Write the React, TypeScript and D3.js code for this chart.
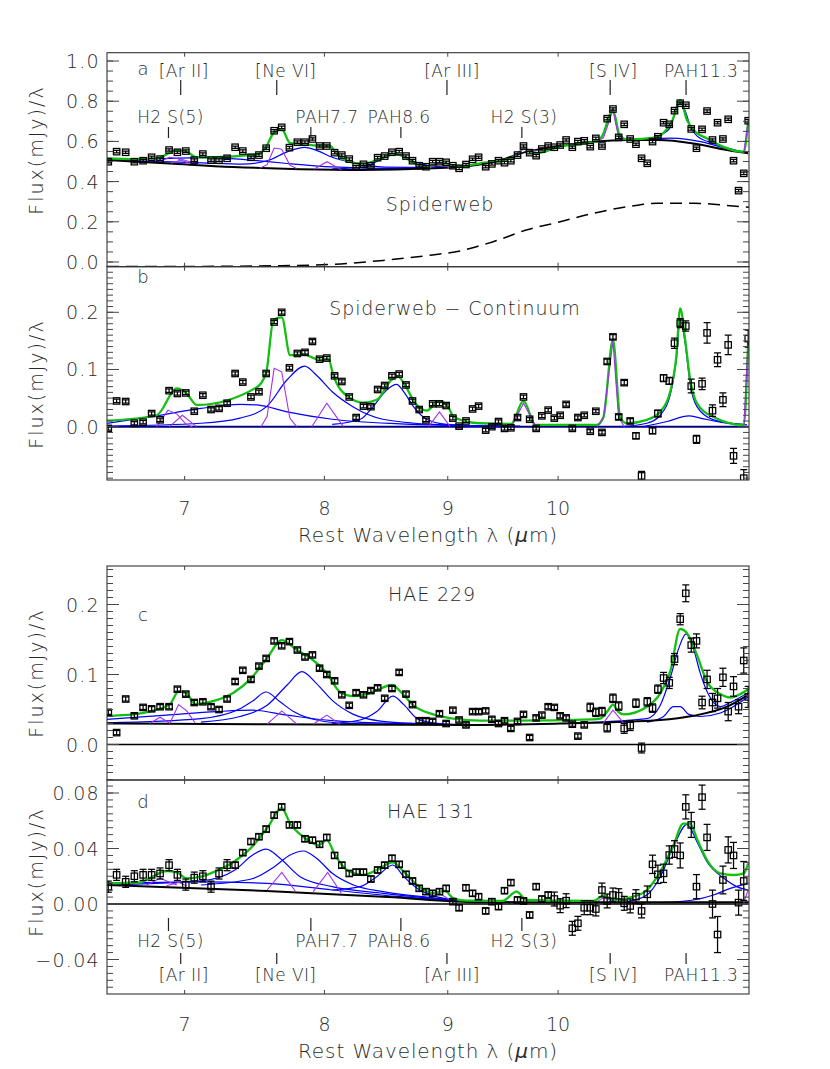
import React from "react";
import * as d3 from "d3";

type P = [number, number];

// common rest-frame wavelength grid (micron)
const wave = [6.508,6.560,6.617,6.672,6.728,6.783,6.838,6.897,6.952,7.008,7.065,7.123,7.179,7.234,7.290,7.346,7.400,7.458,7.515,7.567,7.625,7.680,7.737,7.796,7.853,7.909,7.963,8.018,8.078,8.134,8.192,8.246,8.304,8.363,8.417,8.474,8.533,8.592,8.648,8.702,8.758,8.815,8.871,8.929,8.986,9.044,9.098,9.158,9.216,9.269,9.332,9.387,9.447,9.501,9.559,9.620,9.675,9.732,9.793,9.846,9.906,9.964,10.020,10.077,10.137,10.191,10.253,10.312,10.367,10.428,10.480,10.538,10.596,10.652,10.713,10.772,10.830,10.889,10.944,11.000,11.060,11.120,11.176,11.237,11.297,11.356,11.413,11.474,11.529,11.589,11.645,11.705,11.764,11.824,11.881,11.940,11.991];

const fluxA = [0.499,0.549,0.546,0.499,0.504,0.521,0.512,0.557,0.546,0.552,
0.507,0.537,0.507,0.507,0.516,0.571,0.552,0.521,0.532,0.566,
0.653,0.670,0.569,0.596,0.596,0.612,0.577,0.577,0.544,0.532,
0.512,0.474,0.486,0.479,0.519,0.527,0.546,0.549,0.527,0.504,
0.479,0.474,0.499,0.499,0.496,0.479,0.466,0.485,0.511,0.521,
0.474,0.488,0.504,0.494,0.504,0.532,0.577,0.544,0.529,0.562,
0.577,0.571,0.582,0.607,0.571,0.599,0.603,0.574,0.615,0.577,
0.713,0.761,0.620,0.685,0.612,0.586,0.516,0.491,0.599,0.623,
0.693,0.685,0.753,0.790,0.780,0.662,0.566,0.660,0.751,0.607,
0.693,0.612,0.710,0.504,0.355,0.441,0.703];
const errA = wave.map(() => 0.006);

const fluxB = [-0.003,0.045,0.044,0.006,0.008,0.023,0.012,0.063,0.058,0.059,
0.027,0.055,0.030,0.032,0.041,0.093,0.078,0.052,0.061,0.093,
0.183,0.200,0.103,0.128,0.130,0.149,0.118,0.120,0.089,0.079,
0.052,0.016,0.036,0.035,0.065,0.072,0.089,0.092,0.073,0.045,
0.030,0.012,0.040,0.040,0.037,0.015,0.001,0.010,0.031,0.036,
-0.006,0.000,0.009,-0.003,-0.002,0.016,0.052,0.013,-0.003,0.019,
0.029,0.015,0.020,0.039,-0.003,0.016,0.020,-0.008,0.027,-0.010,
0.114,0.157,0.017,0.077,0.010,-0.016,-0.086,-0.110,-0.007,0.023,
0.085,0.080,0.146,0.181,0.176,0.071,-0.022,0.075,0.164,0.028,
0.117,0.047,0.143,-0.051,-0.180,-0.090,0.154];
const errB = [0.003,0.003,0.003,0.003,0.003,0.003,0.003,0.003,0.003,0.003,
0.003,0.003,0.003,0.003,0.003,0.003,0.003,0.003,0.003,0.003,
0.003,0.003,0.003,0.003,0.003,0.003,0.003,0.003,0.003,0.003,
0.003,0.003,0.003,0.003,0.003,0.003,0.003,0.003,0.003,0.003,
0.003,0.003,0.003,0.003,0.003,0.003,0.003,0.003,0.003,0.003,
0.003,0.003,0.003,0.003,0.003,0.003,0.003,0.003,0.003,0.003,
0.003,0.003,0.003,0.003,0.003,0.003,0.003,0.003,0.003,0.003,
0.004,0.004,0.004,0.004,0.004,0.005,0.008,0.008,0.005,0.006,
0.006,0.006,0.009,0.008,0.009,0.012,0.007,0.010,0.018,0.010,
0.012,0.012,0.017,0.013,0.015,0.015,0.015];

const fluxC = [0.046,0.017,0.065,0.041,0.053,0.051,0.054,0.054,0.079,0.072,
0.060,0.061,0.054,0.050,0.065,0.090,0.106,0.093,0.112,0.123,
0.148,0.141,0.147,0.135,0.125,0.128,0.109,0.100,0.091,0.071,
0.056,0.074,0.071,0.077,0.081,0.066,0.080,0.103,0.072,0.057,
0.034,0.034,0.033,0.044,0.030,0.049,0.035,0.028,0.047,0.047,
0.048,0.036,0.030,0.034,0.023,0.033,0.043,0.010,0.038,0.042,
0.054,0.053,0.041,0.038,0.029,0.012,0.028,0.053,0.046,0.047,
0.024,0.066,0.055,0.023,0.027,0.059,-0.005,0.061,0.052,0.079,
0.095,0.088,0.122,0.179,0.216,0.142,0.148,0.060,0.093,0.060,
0.066,0.096,0.047,0.083,0.054,0.120,0.068];
const errC = [0.003,0.003,0.003,0.003,0.003,0.003,0.003,0.003,0.003,0.003,
0.003,0.003,0.003,0.003,0.003,0.003,0.003,0.003,0.003,0.003,
0.003,0.003,0.003,0.003,0.003,0.003,0.003,0.003,0.003,0.003,
0.003,0.003,0.003,0.003,0.003,0.003,0.003,0.003,0.003,0.003,
0.003,0.003,0.003,0.003,0.003,0.003,0.003,0.003,0.003,0.003,
0.003,0.003,0.003,0.003,0.003,0.003,0.003,0.003,0.003,0.003,
0.003,0.003,0.003,0.003,0.003,0.003,0.003,0.006,0.006,0.006,
0.006,0.006,0.006,0.007,0.007,0.006,0.007,0.006,0.006,0.006,
0.008,0.008,0.008,0.008,0.012,0.010,0.010,0.009,0.013,0.013,
0.014,0.013,0.013,0.014,0.010,0.018,0.015];

const fluxD: (number | null)[] = [0.0125,0.021,0.016,0.020,0.021,0.021,0.022,0.028,0.021,0.014,
0.019,0.020,0.0125,0.022,0.028,0.028,0.037,0.045,0.0485,0.054,
0.064,0.070,0.057,0.057,0.047,0.046,0.043,0.048,0.035,0.028,
0.022,0.023,0.023,0.018,0.0245,0.028,0.033,0.0286,0.0214,0.0166,
0.0113,0.0089,0.0077,0.0089,0.0113,0.0017,-0.0027,0.0117,0.0077,0.0053,
-0.005,0.0017,-0.0019,0.0096,0.0154,0.0029,0.0022,-0.0079,0.0125,0.0036,
0.0065,0.0036,-0.0012,0.0024,-0.0175,-0.0139,-0.0027,-0.0027,-0.0036,0.0101,
0.0022,0.0065,0.006,0.0005,-0.0014,0.0053,-0.005,0.007,0.0286,0.0214,
0.0221,0.0353,0.0396,0.035,0.070,0.057,0.0125,0.077,0.048,0.000,
-0.022,0.0173,0.039,0.035,0.001,0.0166,null];
const errD = [0.004,0.004,0.004,0.004,0.004,0.004,0.004,0.004,0.004,0.004,
0.004,0.004,0.004,0.004,0.004,0.002,0.002,0.002,0.002,0.002,
0.002,0.002,0.002,0.002,0.002,0.002,0.002,0.002,0.002,0.002,
0.002,0.002,0.002,0.002,0.002,0.002,0.002,0.002,0.002,0.002,
0.002,0.002,0.002,0.002,0.002,0.002,0.002,0.002,0.002,0.002,
0.002,0.002,0.002,0.002,0.002,0.002,0.002,0.002,0.002,0.002,
0.002,0.005,0.005,0.005,0.005,0.005,0.005,0.005,0.005,0.005,
0.005,0.005,0.005,0.005,0.005,0.005,0.005,0.006,0.0066,0.0066,
0.0066,0.0066,0.006,0.009,0.0087,0.009,0.0087,0.0087,0.0094,0.010,
0.013,0.010,0.0094,0.0094,0.009,0.014,0.0];

// ---------- model curves (wavelength, value) ----------
const greenA: P[] = [[6.50,0.516],[6.664,0.512],[6.816,0.516],[6.849,0.524],[6.948,0.557],[7.014,0.549],[7.082,0.521],[7.172,0.521],[7.50,0.536],[7.56,0.566],[7.62,0.640],[7.681,0.660],[7.742,0.591],[7.841,0.587],[7.967,0.577],[8.043,0.577],[8.082,0.549],[8.185,0.499],[8.303,0.488],[8.411,0.507],[8.546,0.537],[8.60,0.532],[8.71,0.494],[8.836,0.474],[8.935,0.494],[8.992,0.491],[9.064,0.478],[9.107,0.478],[9.283,0.491],[9.562,0.516],[9.633,0.541],[9.675,0.566],[9.732,0.549],[9.799,0.541],[10.02,0.575],[10.36,0.599],[10.427,0.623],[10.538,0.756],[10.605,0.632],[10.68,0.610],[10.99,0.620],[11.06,0.643],[11.148,0.698],[11.237,0.806],[11.31,0.706],[11.38,0.657],[11.528,0.615],[11.94,0.549],[11.99,0.698]];
const contA: P[] = [[6.50,0.507],[6.90,0.490],[7.33,0.473],[7.82,0.462],[8.28,0.458],[8.87,0.466],[9.12,0.474],[9.41,0.499],[9.71,0.549],[10.02,0.577],[10.36,0.599],[10.68,0.607],[11.0,0.607],[11.38,0.590],[11.75,0.557],[11.99,0.541]];
const dashA: P[] = [[6.50,-0.023],[7.12,-0.022],[7.60,-0.019],[8.06,-0.012],[8.46,0.008],[8.87,0.035],[9.107,0.055],[9.262,0.078],[9.40,0.101],[9.70,0.159],[10.02,0.200],[10.34,0.242],[10.68,0.275],[11.0,0.292],[11.38,0.292],[11.82,0.279],[12.0,0.272]];
const blueA: P[][] = [
  [[6.50,0.513],[6.81,0.514],[7.12,0.519],[7.40,0.511],[7.52,0.503],[7.72,0.490],[8.06,0.473],[8.60,0.465],[9.15,0.476],[9.40,0.499]],
  [[6.50,0.508],[7.12,0.493],[7.40,0.487],[7.58,0.505],[7.72,0.548],[7.85,0.570],[7.95,0.553],[8.06,0.521],[8.22,0.494],[8.47,0.472],[8.87,0.470]],
  [[8.06,0.464],[8.28,0.471],[8.39,0.494],[8.50,0.527],[8.58,0.537],[8.64,0.523],[8.72,0.499],[8.83,0.481],[9.0,0.472]],
  [[10.6,0.607],[10.86,0.613],[11.0,0.627],[11.12,0.662],[11.17,0.724],[11.237,0.794],[11.29,0.753],[11.35,0.670],[11.42,0.626],[11.6,0.590],[11.94,0.545]],
  [[10.8,0.607],[11.12,0.616],[11.33,0.609],[11.47,0.598],[11.76,0.563],[11.98,0.543]],
];
const purpleA: P[][] = [
  [[6.82,0.494],[6.90,0.521],[6.95,0.515],[7.02,0.494],[7.08,0.490]],
  [[6.91,0.491],[6.985,0.510],[7.08,0.489]],
  [[7.52,0.466],[7.574,0.484],[7.625,0.567],[7.68,0.561],[7.74,0.482],[7.79,0.465]],
  [[7.92,0.461],[8.02,0.499],[8.13,0.459]],
  [[8.84,0.466],[8.93,0.492],[9.02,0.468]],
  [[9.565,0.522],[9.675,0.566],[9.793,0.552]],
  [[10.378,0.600],[10.443,0.617],[10.538,0.756],[10.594,0.623],[10.652,0.607]],
  [[11.94,0.545],[11.99,0.695]],
];

const greenB: P[] = [[6.50,0.0105],[6.816,0.020],[6.948,0.067],[7.014,0.058],[7.082,0.038],[7.50,0.069],[7.567,0.094],[7.62,0.187],[7.681,0.191],[7.742,0.125],[7.841,0.126],[7.967,0.117],[8.03,0.119],[8.068,0.090],[8.185,0.052],[8.303,0.042],[8.411,0.047],[8.53,0.082],[8.585,0.087],[8.641,0.072],[8.725,0.041],[8.822,0.028],[8.92,0.044],[8.992,0.038],[9.049,0.018],[9.165,0.009],[9.283,0.006],[9.562,0.005],[9.675,0.045],[9.785,0.003],[10.378,0.003],[10.443,0.017],[10.538,0.152],[10.612,0.015],[10.68,0.006],[10.886,0.012],[11.025,0.026],[11.13,0.061],[11.195,0.122],[11.237,0.207],[11.29,0.152],[11.345,0.082],[11.418,0.041],[11.60,0.017],[11.94,0.003],[11.99,0.149]];
const blueB: P[][] = [
  [[6.50,0.006],[6.77,0.017],[7.11,0.032],[7.38,0.039],[7.50,0.038],[7.72,0.026],[8.06,0.013],[8.60,0.005],[9.165,0.002],[9.645,0.001]],
  [[6.50,0.001],[7.11,0.006],[7.38,0.015],[7.57,0.035],[7.72,0.082],[7.85,0.106],[7.94,0.090],[8.06,0.061],[8.22,0.035],[8.46,0.013],[8.875,0.004],[9.46,0.001]],
  [[8.06,0.004],[8.28,0.013],[8.38,0.035],[8.49,0.064],[8.57,0.074],[8.63,0.061],[8.71,0.035],[8.82,0.013],[8.99,0.004],[9.28,0.001]],
  [[10.612,0],[10.886,0.006],[11.025,0.020],[11.13,0.055],[11.195,0.117],[11.237,0.187],[11.29,0.146],[11.345,0.073],[11.418,0.035],[11.60,0.012],[11.94,0.004]],
  [[10.85,0],[11.096,0.009],[11.33,0.019],[11.454,0.015],[11.75,0.006],[11.977,0.003]],
];
const purpleB: P[][] = [
  [[6.816,0],[6.89,0.029],[6.95,0.022],[7.01,0.004],[7.05,0]],
  [[6.90,0],[6.985,0.020],[7.08,0]],
  [[7.53,0],[7.574,0.018],[7.625,0.102],[7.68,0.096],[7.74,0.015],[7.79,0]],
  [[7.904,0],[8.018,0.041],[8.146,0]],
  [[8.836,0],[8.929,0.026],[9.02,0]],
  [[9.565,0],[9.675,0.041],[9.793,0]],
  [[10.378,0],[10.443,0.017],[10.538,0.150],[10.594,0.017],[10.652,0]],
  [[11.94,0],[11.99,0.148]],
];

const greenC: P[] = [[6.50,0.041],[6.664,0.043],[6.77,0.047],[6.904,0.058],[6.96,0.076],[7.014,0.073],[7.07,0.058],[7.172,0.061],[7.335,0.074],[7.452,0.093],[7.572,0.123],[7.681,0.149],[7.792,0.135],[7.891,0.124],[8.018,0.102],[8.12,0.075],[8.225,0.069],[8.33,0.072],[8.438,0.080],[8.534,0.085],[8.60,0.076],[8.71,0.056],[8.875,0.043],[9.049,0.037],[9.283,0.034],[9.562,0.034],[10.34,0.036],[10.41,0.037],[10.48,0.047],[10.538,0.057],[10.59,0.047],[10.645,0.043],[10.886,0.054],[11.025,0.073],[11.13,0.104],[11.237,0.165],[11.31,0.159],[11.418,0.128],[11.528,0.090],[11.676,0.072],[11.787,0.067],[11.90,0.072],[11.99,0.079]];
const contC: P[] = [[6.50,0.030],[7.57,0.029],[9.28,0.028],[10.02,0.030],[11.025,0.035],[11.38,0.041],[11.75,0.054],[11.99,0.071]];
const blueC: P[][] = [
  [[6.50,0.036],[6.88,0.042],[7.22,0.047],[7.47,0.049],[7.72,0.042],[8.06,0.034],[8.60,0.030],[9.28,0.028]],
  [[6.50,0.031],[7.11,0.037],[7.38,0.051],[7.47,0.062],[7.567,0.075],[7.668,0.061],[7.768,0.047],[7.94,0.035],[8.20,0.030],[8.77,0.029]],
  [[7.11,0.032],[7.38,0.040],[7.574,0.056],[7.72,0.085],[7.83,0.104],[7.94,0.087],[8.06,0.063],[8.225,0.043],[8.46,0.033],[8.74,0.030],[9.28,0.028]],
  [[8.06,0.030],[8.277,0.035],[8.41,0.047],[8.54,0.069],[8.63,0.057],[8.74,0.037],[8.875,0.031],[9.19,0.028]],
  [[10.02,0.030],[10.886,0.037],[11.025,0.056],[11.13,0.095],[11.22,0.137],[11.30,0.158],[11.38,0.137],[11.454,0.102],[11.546,0.071],[11.676,0.054],[11.787,0.060],[11.99,0.074]],
  [[10.886,0.032],[11.06,0.040],[11.165,0.054],[11.237,0.054],[11.33,0.043],[11.454,0.040],[11.676,0.045],[11.99,0.068]],
];
const purpleC: P[][] = [
  [[6.77,0.030],[6.838,0.039],[6.904,0.030]],
  [[6.904,0.031],[6.96,0.057],[7.014,0.048],[7.07,0.031]],
  [[7.574,0.029],[7.681,0.048],[7.792,0.029]],
  [[7.915,0.029],[8.018,0.042],[8.12,0.029]],
  [[10.443,0.031],[10.538,0.049],[10.645,0.031]],
];

const greenD: P[] = [[6.50,0.0149],[6.71,0.0156],[6.77,0.0185],[6.88,0.0238],[6.948,0.0228],[7.014,0.0185],[7.11,0.0197],[7.205,0.0233],[7.345,0.031],[7.46,0.0406],[7.574,0.0546],[7.681,0.069],[7.742,0.058],[7.84,0.0485],[7.955,0.0425],[8.018,0.046],[8.082,0.0353],[8.173,0.0245],[8.303,0.0209],[8.41,0.0245],[8.54,0.030],[8.63,0.0233],[8.74,0.0137],[8.875,0.0077],[8.975,0.0094],[9.049,0.0041],[9.165,0.0024],[9.48,0.0022],[9.613,0.0089],[9.70,0.0029],[10.34,0.0022],[10.443,0.006],[10.545,0.0029],[10.747,0.0053],[10.886,0.0101],[11.025,0.0233],[11.165,0.0425],[11.27,0.058],[11.345,0.058],[11.418,0.047],[11.528,0.0317],[11.676,0.0221],[11.827,0.0209],[11.94,0.0221],[11.99,0.0293]];
const contD: P[] = [[6.5,0.0137],[7.57,0.0094],[8.5,0.005],[9.28,0.0012],[12.0,0.0012]];
const blueD: P[][] = [
  [[6.50,0.0149],[7.11,0.016],[7.574,0.0149],[8.06,0.0101],[8.60,0.0053],[9.165,0.0022],[9.645,0.0012]],
  [[6.50,0.0137],[7.11,0.0166],[7.345,0.0245],[7.47,0.0353],[7.567,0.0396],[7.668,0.033],[7.816,0.0197],[8.06,0.0125],[8.46,0.0077],[8.875,0.0041],[9.28,0.0015]],
  [[7.11,0.0137],[7.46,0.018],[7.627,0.0269],[7.742,0.0353],[7.84,0.0382],[7.94,0.033],[8.06,0.0221],[8.225,0.0137],[8.46,0.0089],[8.875,0.0045],[9.28,0.0015]],
  [[8.06,0.0101],[8.277,0.0125],[8.41,0.0197],[8.54,0.0281],[8.63,0.0197],[8.74,0.0113],[8.875,0.006],[9.10,0.0022],[9.28,0.0013]],
  [[10.68,0.0017],[10.886,0.0065],[11.025,0.0197],[11.165,0.0413],[11.31,0.0574],[11.418,0.0449],[11.528,0.0305],[11.716,0.0185],[11.86,0.0125],[11.99,0.0101]],
  [[11.025,0.001],[11.38,0.0029],[11.60,0.0065],[11.787,0.0113],[11.99,0.0149]],
];
const purpleD: P[][] = [
  [[6.75,0.0137],[6.838,0.0185],[6.948,0.0137]],
  [[6.88,0.0131],[6.96,0.0156],[7.014,0.013]],
  [[7.574,0.0101],[7.681,0.0228],[7.78,0.0094]],
  [[7.915,0.0089],[8.025,0.0228],[8.13,0.0077]],
  [[8.85,0.0053],[8.929,0.0077],[9.02,0.0029]],
  [[10.378,0.0017],[10.443,0.0045],[10.538,0.0022]],
  [[11.94,0.001],[11.99,0.0101]],
];

// spectral line identifications
const lineNames = ["H2 S(5)", "[Ar II]", "[Ne VI]", "PAH7.7", "PAH8.6", "[Ar III]", "H2 S(3)", "[S IV]", "PAH11.3"];
const lineWaves = [6.893, 6.974, 7.644, 7.897, 8.606, 8.993, 9.660, 10.510, 11.30];
const lineRow = [2, 1, 1, 2, 2, 1, 2, 1, 1];
const lineDx = [2, 3, 9, 16, -2, 5, 2, 3, 15];

const xTicks = [7, 8, 9, 10];

// ---------- layout ----------
const X0 = 107, X1 = 749;
const GREEN = "#12c012", BLUE = "#0000ff", PURPLE = "#a030f0", TXT = "#2a2a2a";
const FONT = "DejaVu Sans";

type Panel = {
  key: string; top: number; bottom: number; domain: [number, number];
  major: number; minor: number; fmt: string; flux: (number | null)[]; err: number[];
  green: P[]; cont?: P[]; dash?: P[]; blue: P[][]; purple: P[][];
  zero?: string; letter: string; letterY: number; title: string; titleX: number; titleY: number;
  ytitleY: number;
};

const panels: Panel[] = [
  { key: "a", top: 52.7, bottom: 266.7, domain: [-0.0234, 1.0413], major: 0.2, minor: 0.05, fmt: ".1f",
    flux: fluxA, err: errA, green: greenA, cont: contA, dash: dashA, blue: blueA, purple: purpleA,
    letter: "a", letterY: 75, title: "Spiderweb", titleX: 440, titleY: 211, ytitleY: 150 },
  { key: "b", top: 266.7, bottom: 480, domain: [-0.0932, 0.2797], major: 0.1, minor: 0.01, fmt: ".1f",
    flux: fluxB, err: errB, green: greenB, blue: blueB, purple: purpleB, zero: "#000080",
    letter: "b", letterY: 283, title: "Spiderweb \u2212 Continuum", titleX: 455, titleY: 315, ytitleY: 384 },
  { key: "c", top: 566, bottom: 780, domain: [-0.0507, 0.255], major: 0.1, minor: 0.01, fmt: ".1f",
    flux: fluxC, err: errC, green: greenC, cont: contC, blue: blueC, purple: purpleC, zero: "#000",
    letter: "c", letterY: 621, title: "HAE 229", titleX: 432, titleY: 601, ytitleY: 673 },
  { key: "d", top: 780, bottom: 994, domain: [-0.06486, 0.08937], major: 0.04, minor: 0.005, fmt: ".2f",
    flux: fluxD, err: errD, green: greenD, cont: contD, blue: blueD, purple: purpleD, zero: "#000",
    letter: "d", letterY: 808, title: "HAE 131", titleX: 431, titleY: 818, ytitleY: 872 },
];

const x = d3.scaleLog().domain([6.5, 12]).range([X0, X1]);

function tickVals(lo: number, hi: number, step: number) {
  const out: number[] = [];
  for (let k = Math.ceil(lo / step - 1e-9); k <= Math.floor(hi / step + 1e-9); k++) out.push(+(k * step).toFixed(6));
  return out;
}

function PanelView({ p }: { p: Panel }) {
  const y = d3.scaleLinear().domain(p.domain).range([p.bottom, p.top]);
  const smooth = d3.line<P>().x(d => x(d[0])).y(d => y(d[1])).curve(d3.curveMonotoneX);
  const straight = d3.line<P>().x(d => x(d[0])).y(d => y(d[1]));
  const clipId = "clip-" + p.key;
  const majors = tickVals(p.domain[0], p.domain[1], p.major);
  const minors = tickVals(p.domain[0], p.domain[1], p.minor);
  const fmt = d3.format(p.fmt);
  const H = p.bottom - p.top;
  return (
    <g>
      <defs>
        <clipPath id={clipId}><rect x={X0} y={p.top} width={X1 - X0} height={H} /></clipPath>
      </defs>
      <g clipPath={`url(#${clipId})`}>
        {p.zero && <line x1={X0} x2={X1} y1={y(0)} y2={y(0)} stroke={p.zero} strokeWidth={p.key === "b" ? 2 : 1.3} />}
        {p.dash && <path d={smooth(p.dash) || ""} fill="none" stroke="#000" strokeWidth={1.5} strokeDasharray="12,7" />}
        {p.blue.map((c, i) => <path key={"b" + i} d={smooth(c) || ""} fill="none" stroke={BLUE} strokeWidth={1.2} />)}
        {p.cont && <path d={smooth(p.cont) || ""} fill="none" stroke="#000" strokeWidth={2} />}
        <path d={smooth(p.green) || ""} fill="none" stroke={GREEN} strokeWidth={2.3} />
        {p.purple.map((c, i) => <path key={"p" + i} d={straight(c) || ""} fill="none" stroke={PURPLE} strokeWidth={1.1} />)}
        {wave.map((w, i) => {
          const v = p.flux[i];
          if (v === null || v === undefined) return null;
          const cx = x(w), cy = y(v);
          const e = p.err[i] || 0;
          const y1 = y(v + e), y2 = y(v - e);
          return (
            <g key={"pt" + i} stroke="#000" strokeWidth={1.25} fill="none">
              <rect x={cx - 3.2} y={cy - 3.2} width={6.4} height={6.4} />
              {e > 0 && <line x1={cx} x2={cx} y1={y1} y2={y2} />}
              {e > 0 && <line x1={cx - 3.5} x2={cx + 3.5} y1={y1} y2={y1} />}
              {e > 0 && <line x1={cx - 3.5} x2={cx + 3.5} y1={y2} y2={y2} />}
            </g>
          );
        })}
      </g>
      <rect x={X0} y={p.top} width={X1 - X0} height={H} fill="none" stroke="#333" strokeWidth={1.1} />
      {minors.map(v => (
        <g key={"mi" + v} stroke="#444" strokeWidth={1}>
          <line x1={X0} x2={X0 + 6} y1={y(v)} y2={y(v)} />
          <line x1={X1} x2={X1 - 6} y1={y(v)} y2={y(v)} />
        </g>
      ))}
      {majors.map(v => (
        <g key={"ma" + v}>
          <line x1={X0} x2={X0 + 12} y1={y(v)} y2={y(v)} stroke="#444" strokeWidth={1} />
          <line x1={X1} x2={X1 - 12} y1={y(v)} y2={y(v)} stroke="#444" strokeWidth={1} />
          <text x={100} y={y(v) + 7} textAnchor="end" fontSize={19} fill={TXT} fontWeight={300} letterSpacing={1.3}>
            {fmt(v).replace("-", "\u2212")}
          </text>
        </g>
      ))}
      {xTicks.map(t => (
        <g key={"xt" + t} stroke="#444" strokeWidth={1}>
          <line x1={x(t)} x2={x(t)} y1={p.bottom} y2={p.bottom - 4} />
          <line x1={x(t)} x2={x(t)} y1={p.top} y2={p.top + 4} />
        </g>
      ))}
      <text x={143} y={p.letterY} textAnchor="middle" fontSize={18} fill={TXT} fontWeight={300}>{p.letter}</text>
      <text x={p.titleX} y={p.titleY} textAnchor="middle" fontSize={19} fill={TXT} fontWeight={300} letterSpacing={0.9}>{p.title}</text>
      <text transform={`translate(43,${p.ytitleY}) rotate(-90)`} textAnchor="middle" fontSize={19} fill={TXT} fontWeight={300} letterSpacing={2}>
        Flux(mJy)/λ
      </text>
    </g>
  );
}

function LineLabels({ rows }: { rows: { row: number; tickY1: number; tickY2: number; textY: number }[] }) {
  return (
    <g>
      {lineNames.map((n, i) => {
        const r = rows.find(rr => rr.row === lineRow[i])!;
        const lx = x(lineWaves[i]);
        return (
          <g key={n}>
            <line x1={lx} x2={lx} y1={r.tickY1} y2={r.tickY2} stroke="#222" strokeWidth={1.2} />
            <text x={lx + lineDx[i]} y={r.textY} textAnchor="middle" fontSize={17} fill={TXT} fontWeight={300} letterSpacing={0.4}>{n}</text>
          </g>
        );
      })}
    </g>
  );
}

function XAxisLabels({ y0 }: { y0: number }) {
  return (
    <g>
      {xTicks.map(t => (
        <text key={t} x={x(t)} y={y0} textAnchor="middle" fontSize={19} fill={TXT} fontWeight={300}>{t}</text>
      ))}
      <text x={428} y={y0 + 27} textAnchor="middle" fontSize={20} fill={TXT} fontWeight={300} letterSpacing={0.9}>
        Rest Wavelength λ (<tspan fontStyle="italic">μ</tspan>m)
      </text>
    </g>
  );
}

export default function App() {
  return (
    <svg width={830} height={1069} viewBox="0 0 830 1069"
      style={{ position: "absolute", left: 0, top: 0, background: "#fff" }} fontFamily={FONT}>
      <rect x={0} y={0} width={830} height={1069} fill="#fff" />
      {panels.map(p => <PanelView key={p.key} p={p} />)}
      <LineLabels rows={[
        { row: 1, tickY1: 80, tickY2: 95, textY: 77 },
        { row: 2, tickY1: 127, tickY2: 138, textY: 123 },
      ]} />
      <LineLabels rows={[
        { row: 2, tickY1: 918, tickY2: 931, textY: 947 },
        { row: 1, tickY1: 953, tickY2: 964, textY: 981 },
      ]} />
      <XAxisLabels y0={515} />
      <XAxisLabels y0={1031} />
    </svg>
  );
}
